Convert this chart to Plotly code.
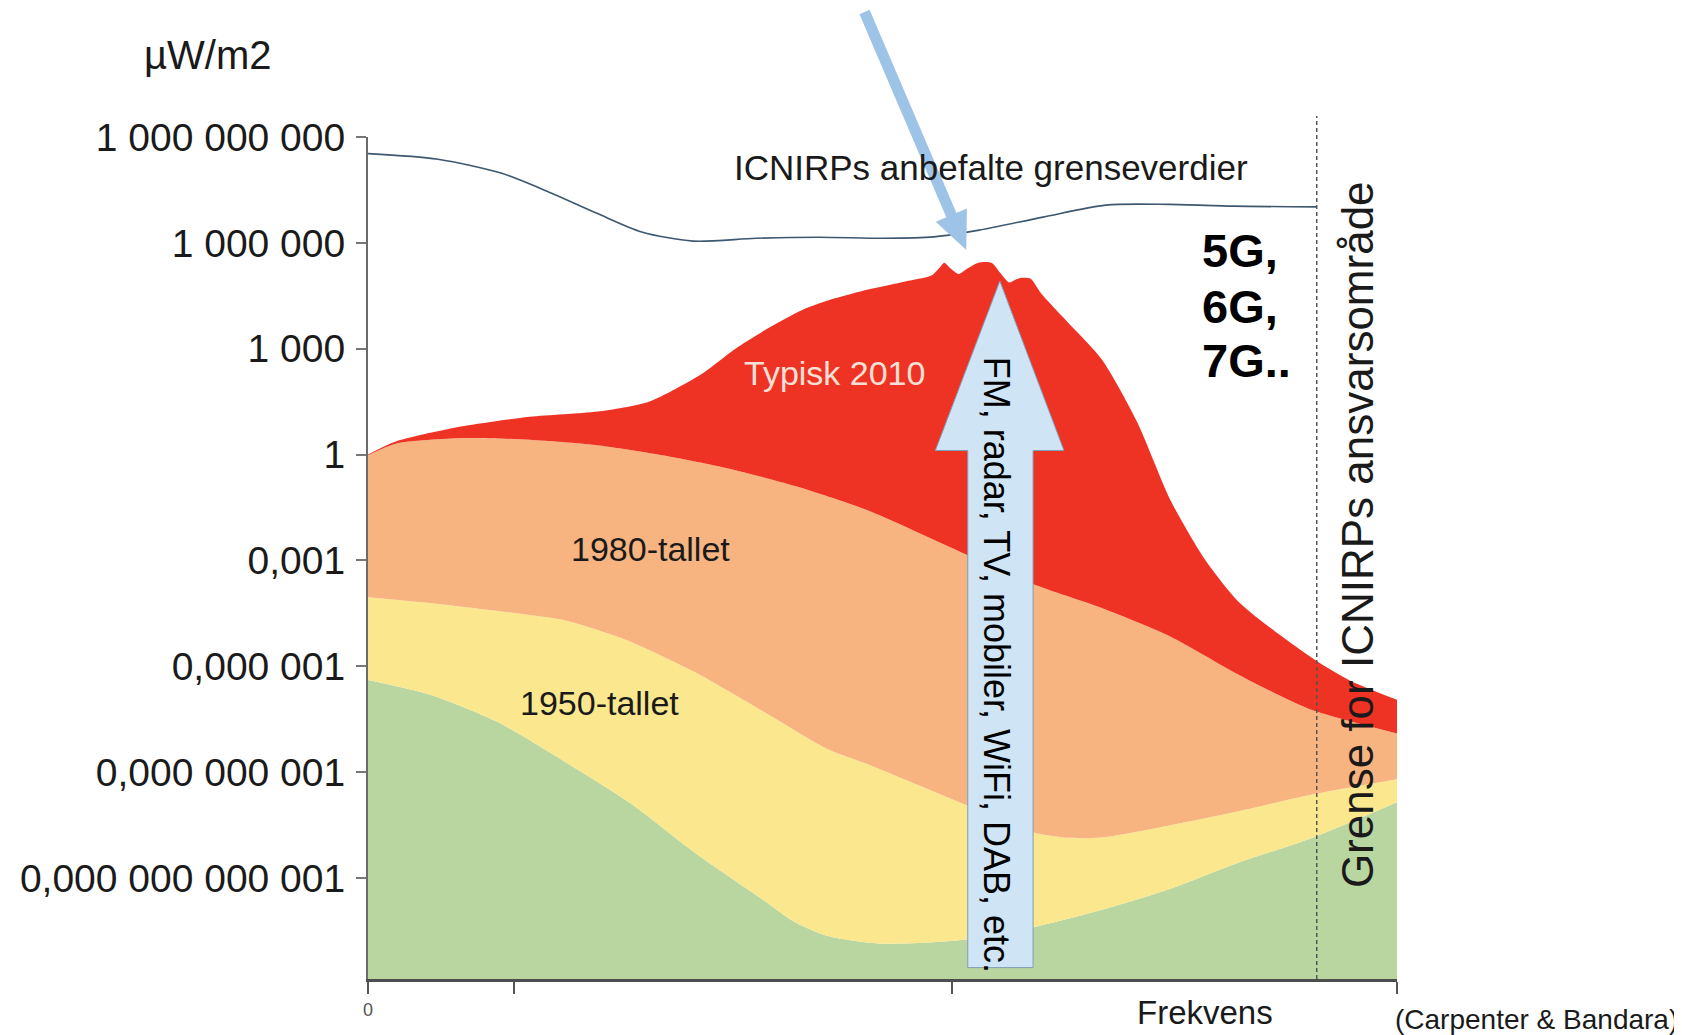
import plotly.graph_objects as go

# ---------------- data ----------------
# frequency axis is unitless (0..100), exposure in µW/m2 given as log10 exponents
green_x = [0, 6.2, 12.6, 19.0, 25.5, 31.8, 38.3, 41.5, 44.7, 49.9, 57.9, 64.6, 71.3, 78.0, 84.7, 91.4, 100]
green_exp = [-6.39, -6.82, -7.58, -8.68, -9.88, -11.29, -12.6, -13.25, -13.64, -13.86, -13.75, -13.4, -12.9, -12.3, -11.55, -10.9, -9.85]

yellow_x = [0, 6.2, 12.6, 19.0, 25.5, 31.8, 38.3, 44.7, 48.8, 57.9, 64.6, 68.0, 71.3, 78.0, 84.7, 91.4, 100]
yellow_exp = [-4.04, -4.21, -4.43, -4.69, -5.30, -6.17, -7.26, -8.35, -8.8, -9.9, -10.7, -10.86, -10.85, -10.5, -10.1, -9.65, -9.2]

orange_x = [0, 2.7, 9.2, 15.7, 22.1, 28.6, 35.1, 41.5, 48.3, 57.9, 64.6, 71.3, 78.0, 84.7, 91.4, 100]
orange_exp = [-0.02, 0.31, 0.47, 0.42, 0.27, -0.02, -0.40, -0.89, -1.55, -2.8, -3.67, -4.35, -5.16, -6.25, -7.2, -7.9]

red_x = [0, 2.7, 9.2, 15.7, 22.3, 27.3, 32.5, 35.7, 39.0, 42.2, 45.3, 48.6, 51.8, 54.8, 55.5, 56.0,
         56.6, 57.4, 58.3, 59.3, 60.6, 61.5, 62.3, 63.3, 64.4, 65.4, 68.0, 71.3, 74.7, 78.0, 81.4,
         84.7, 88.1, 92.2, 95.4, 100]
red_exp = [0.0, 0.37, 0.80, 1.07, 1.22, 1.5, 2.3, 3.0, 3.6, 4.1, 4.42, 4.68, 4.88, 5.08, 5.28, 5.44,
           5.28, 5.12, 5.28, 5.44, 5.44, 5.13, 4.88, 5.0, 4.98, 4.57, 3.75, 2.7, 0.95, -1.3, -3.0,
           -4.2, -5.0, -5.85, -6.4, -6.95]

icnirp_x = [0, 6.8, 13.0, 17.9, 22.3, 26.6, 31.6, 37.7, 43.9, 50.1, 55.0, 59.4, 65.6, 71.7, 77.9, 84.1, 92.2]
icnirp_exp = [8.53, 8.37, 7.97, 7.40, 6.83, 6.31, 6.05, 6.13, 6.16, 6.13, 6.17, 6.36, 6.73, 7.07, 7.09, 7.04, 7.02]

y_tickvals = [1e-12, 1e-9, 1e-6, 1e-3, 1, 1e3, 1e6, 1e9]
y_ticktext = ["0,000 000 000 001", "0,000 000 001", "0,000 001", "0,001", "1",
              "1 000", "1 000 000", "1 000 000 000"]
x_tickvals = [0, 14.2, 56.8, 100]
x_ticktext = ["0", "", "", ""]
icnirp_limit_x = 92.2


def vals(exps):
    return [10 ** e for e in exps]


# ---------------- layout geometry ----------------
# page body has an 8px margin, so the figure is drawn 8px smaller and offset
OFF = 8
W, H = 1682 - OFF, 1035 - OFF
ML, MT = 365 - OFF, 137 - OFF
PW, PH = 1032, 842
MR = W - ML - PW
MB = H - MT - PH


def px(x):  # screen x (reference pixels) -> paper
    return (x - 365) / PW


def py(y):  # screen y (reference pixels) -> paper
    return (979 - y) / PH


FONT = "Liberation Sans, Arial, sans-serif"
RED = "#EE3324"
ORANGE = "#F7B380"
YELLOW = "#FBE78E"
GREEN = "#B9D5A0"

fig = go.Figure()

# baseline below the visible range
fig.add_trace(go.Scatter(x=[0, 100], y=[1e-16, 1e-16], mode="lines",
                         line=dict(width=0), hoverinfo="skip", showlegend=False))
for xs, es, col in [(green_x, green_exp, GREEN), (yellow_x, yellow_exp, YELLOW),
                    (orange_x, orange_exp, ORANGE), (red_x, red_exp, RED)]:
    fig.add_trace(go.Scatter(x=xs, y=vals(es), mode="lines", fill="tonexty",
                             fillcolor=col, line=dict(width=0, color=col, shape="spline", smoothing=0.7),
                             showlegend=False))

fig.add_trace(go.Scatter(x=icnirp_x, y=vals(icnirp_exp), mode="lines",
                         line=dict(color="#3E5870", width=1.6, shape="spline", smoothing=0.8),
                         showlegend=False))

shapes = []
# dashed limit line
shapes.append(dict(type="line", xref="x", yref="paper", x0=icnirp_limit_x, x1=icnirp_limit_x,
                   y0=0, y1=py(116), line=dict(color="#555555", width=1.5, dash="4px,3px")))

# vertical block arrow
pts = [(966.5, 967.6), (966.5, 450.5), (934, 450.5), (998.7, 281), (1063, 450.5), (1032, 450.5), (1032, 967.6)]
path = "M " + " L ".join(f"{px(a):.5f},{py(b):.5f}" for a, b in pts) + " Z"
shapes.append(dict(type="path", xref="paper", yref="paper", path=path,
                   fillcolor="#CFE4F4", line=dict(color="#7F9DB9", width=1)))

# diagonal blue arrow
tail = (863, 12)
tip = (965, 250)
dx, dy = tip[0] - tail[0], tip[1] - tail[1]
ln = (dx * dx + dy * dy) ** 0.5
ux, uy = dx / ln, dy / ln
nx, ny = -uy, ux
head_len, head_half = 38, 17
bx, by = tip[0] - head_len * ux, tip[1] - head_len * uy
shapes.append(dict(type="line", xref="paper", yref="paper",
                   x0=px(tail[0]), y0=py(tail[1]), x1=px(bx + 2 * ux), y1=py(by + 2 * uy),
                   line=dict(color="#9DC3E6", width=11)))
tri = [(bx + head_half * nx, by + head_half * ny), tip, (bx - head_half * nx, by - head_half * ny)]
tpath = "M " + " L ".join(f"{px(a):.5f},{py(b):.5f}" for a, b in tri) + " Z"
shapes.append(dict(type="path", xref="paper", yref="paper", path=tpath,
                   fillcolor="#9DC3E6", line=dict(width=0)))

ann = []


def add_text(text, x, y, size, color="#1a1a1a", angle=0, xanchor="center", bold=False, family=FONT):
    ann.append(dict(text=f"<b>{text}</b>" if bold else text, x=x, y=y, xref="paper", yref="paper",
                    showarrow=False, textangle=angle, xanchor=xanchor, yanchor="middle",
                    font=dict(family=family, size=size, color=color)))


add_text("µW/m2", px(204), py(55), 40)
add_text("ICNIRPs anbefalte grenseverdier", px(990), py(167), 35)
add_text("Typisk 2010", px(833), py(373), 34, color="#F6E0D6")
add_text("1980-tallet", px(648), py(549), 34)
add_text("1950-tallet", px(597.5), py(702.6), 34)
add_text("FM, radar, TV, mobiler, WiFi, DAB, etc.", px(996), py(665), 36, color="#000000", angle=90)
add_text("5G,", px(1199), py(250), 47, color="#000000", xanchor="left", bold=True)
add_text("6G,", px(1199), py(306), 47, color="#000000", xanchor="left", bold=True)
add_text("7G..", px(1199), py(360), 47, color="#000000", xanchor="left", bold=True)
add_text("Grense for ICNIRPs ansvarsområde", px(1357), py(535), 44, angle=-90)
add_text("Frekvens", px(1204), py(1012), 33)
add_text("(Carpenter &amp; Bandara)", px(1681), py(1019), 28, xanchor="right")

fig.update_layout(
    width=W, height=H,
    margin=dict(l=ML, r=MR, t=MT, b=MB, pad=0),
    paper_bgcolor="white", plot_bgcolor="white",
    showlegend=False,
    font=dict(family=FONT),
    shapes=shapes,
    annotations=ann,
    xaxis=dict(range=[0, 100], showgrid=False, zeroline=False, showline=True,
               linecolor="#4d4d4d", linewidth=3, ticks="outside", ticklen=12, tickwidth=2,
               tickcolor="#555555", tickvals=x_tickvals, ticktext=x_ticktext,
               tickfont=dict(size=18, color="#555555", family=FONT)),
    yaxis=dict(type="log", range=[-14.86, 9.0], showgrid=False, zeroline=False, showline=True,
               linecolor="#6b6b6b", linewidth=2, ticks="outside", ticklen=10, tickwidth=2,
               tickcolor="#777777", tickvals=y_tickvals, ticktext=y_ticktext,
               tickfont=dict(size=39, color="#1a1a1a", family=FONT), ticklabelstandoff=3),
)

fig.write_html("out.html")
